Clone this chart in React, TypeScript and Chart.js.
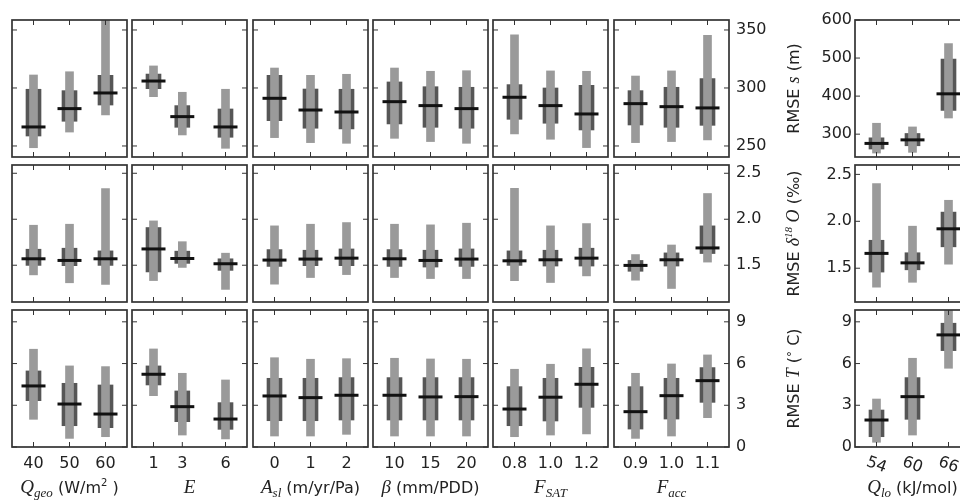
import React, { useEffect, useRef } from 'react';
import { Chart, registerables } from 'chart.js';

Chart.register(...registerables);

// ---------- parameter values (x categories) and tick labels ----------
const qgeoValues = [40, 50, 60];
const qgeoLabels = ['40', '50', '60'];
const eValues = [1, 3, 6];
const eLabels = ['1', '3', '6'];
const aslValues = [0, 1, 2];
const aslLabels = ['0', '1', '2'];
const betaValues = [10, 15, 20];
const betaLabels = ['10', '15', '20'];
const fsatValues = [0.8, 1.0, 1.2];
const fsatLabels = ['0.8', '1.0', '1.2'];
const faccValues = [0.9, 1.0, 1.1];
const faccLabels = ['0.9', '1.0', '1.1'];
const qloValues = [54, 60, 66];
const qloLabels = ['54', '60', '66'];

// ---------- y ticks ----------
const sTicks = [250, 300, 350];
const sTicksQlo = [300, 400, 500, 600];
const d18oTicks = [1.5, 2.0, 2.5];
const tempTicks = [0, 3, 6, 9];

// ---------- y ranges ----------
const sRange = [240.5, 358.6];
const sRangeQlo = [240, 600];
const d18oRange = [1.1, 2.59];
const d18oRangeQlo = [1.14, 2.6];
const tempRange = [0, 9.85];

// ---------- statistics: [min, q1, median, q3, max] per category ----------
// RMSE s (m)
const sQgeo = [[248.5, 258.6, 266.4, 298.9, 311.2], [262, 271.3, 282.2, 297.7, 314], [276.7, 285.3, 295.7, 310.9, 362]];
const sE = [[292.5, 299.4, 306, 312, 319], [259.5, 266.1, 275.3, 284.8, 296.3], [248, 257.5, 266.4, 281.9, 298.9]];
const sAsl = [[257.2, 271.8, 291.1, 310.9, 317.2], [252.9, 265.3, 281, 299.1, 310.9], [252.3, 264.7, 279.3, 298.9, 311.8]];
const sBeta = [[256.6, 269, 288.2, 305.2, 317.2], [253.8, 266.1, 284.8, 301.1, 314.4], [252.3, 265.3, 282.2, 300.6, 314.9]];
const sFsat = [[260.3, 273, 292, 302.9, 345.9], [255.8, 269.6, 284.8, 300, 314.7], [248.6, 263.8, 277.6, 302.3, 314.4]];
const sFacc = [[252.9, 268.1, 286.5, 297.7, 310.3], [253.8, 266.1, 283.9, 300.6, 314.7], [255.2, 267.8, 282.8, 308.1, 345.4]];
const sQlo = [[250.4, 260.9, 275.7, 290.4, 328.7], [252.2, 269.5, 285, 301.8, 319], [342.5, 362.6, 406, 497.5, 538]];
// RMSE d18O (permil)
const dQgeo = [[1.395, 1.498, 1.57, 1.674, 1.935], [1.309, 1.495, 1.552, 1.685, 1.946], [1.29, 1.498, 1.57, 1.656, 2.333]];
const dE = [[1.333, 1.427, 1.677, 1.91, 1.982], [1.476, 1.52, 1.573, 1.653, 1.756], [1.237, 1.444, 1.516, 1.57, 1.631]];
const dAsl = [[1.294, 1.487, 1.556, 1.67, 1.928], [1.366, 1.495, 1.567, 1.663, 1.946], [1.398, 1.495, 1.577, 1.677, 1.964]];
const dBeta = [[1.366, 1.487, 1.57, 1.67, 1.946], [1.355, 1.48, 1.552, 1.663, 1.939], [1.355, 1.487, 1.567, 1.677, 1.957]];
const dFsat = [[1.333, 1.498, 1.548, 1.656, 2.337], [1.312, 1.491, 1.559, 1.663, 1.928], [1.384, 1.491, 1.577, 1.685, 1.953]];
const dFacc = [[1.337, 1.434, 1.498, 1.552, 1.616], [1.247, 1.491, 1.559, 1.634, 1.72], [1.534, 1.627, 1.688, 1.928, 2.28]];
const dQlo = [[1.298, 1.459, 1.658, 1.798, 2.402], [1.35, 1.483, 1.557, 1.665, 1.948], [1.543, 1.728, 1.92, 2.098, 2.224]];
// RMSE T (deg C)
const tQgeo = [[1.99, 3.33, 4.39, 5.47, 7.03], [0.62, 1.53, 3.09, 4.58, 5.83], [0.74, 1.39, 2.37, 4.46, 5.78]];
const tE = [[3.69, 4.46, 5.23, 5.83, 7.05], [0.86, 1.82, 2.9, 4.03, 5.3], [0.58, 1.27, 2.01, 3.19, 4.82]];
const tAsl = [[0.79, 1.89, 3.67, 4.94, 6.42], [0.79, 1.89, 3.55, 4.94, 6.31], [0.91, 1.94, 3.72, 4.99, 6.35]];
const tBeta = [[0.79, 1.94, 3.72, 4.99, 6.38], [0.79, 1.94, 3.6, 4.99, 6.33], [0.79, 1.94, 3.62, 4.99, 6.31]];
const tFsat = [[0.74, 1.53, 2.73, 4.34, 5.59], [0.86, 1.87, 3.58, 4.94, 5.95], [0.94, 2.85, 4.51, 5.73, 7.05]];
const tFacc = [[0.62, 1.29, 2.54, 4.34, 5.3], [0.79, 2.01, 3.69, 4.94, 5.97], [2.11, 3.21, 4.77, 5.71, 6.62]];
const tQlo = [[0.34, 0.74, 1.94, 2.66, 3.45], [0.86, 1.99, 3.62, 4.99, 6.38], [5.66, 6.93, 8.06, 8.9, 9.9]];

// ---------- text styling helpers ----------
type Seg = { t: string; f: string; dy?: number };
const SANS = "'DejaVu Sans', sans-serif";
const SERIF = "'Liberation Serif', 'DejaVu Serif', serif";
const sans = (n: number) => `${n}px ${SANS}`;
const mi = (n: number) => `italic ${n}px ${SERIF}`;
const TEXT = '#222';

const xTitles: Seg[][] = [
  [{ t: 'Q', f: mi(19) }, { t: 'geo', f: mi(13), dy: 4 }, { t: ' (W/m', f: sans(16) }, { t: '2', f: sans(10), dy: -7 }, { t: ' )', f: sans(16) }],
  [{ t: 'E', f: mi(19) }],
  [{ t: 'A', f: mi(19) }, { t: 'sl', f: mi(13), dy: 4 }, { t: ' (m/yr/Pa)', f: sans(16) }],
  [{ t: 'β', f: mi(19) }, { t: ' (mm/PDD)', f: sans(16) }],
  [{ t: 'F', f: mi(19) }, { t: 'SAT', f: mi(13), dy: 4 }],
  [{ t: 'F', f: mi(19) }, { t: 'acc', f: mi(13), dy: 4 }],
  [{ t: 'Q', f: mi(19) }, { t: 'lo', f: mi(13), dy: 4 }, { t: ' (kJ/mol)', f: sans(16) }],
];
const yTitles: Seg[][] = [
  [{ t: 'RMSE ', f: sans(16) }, { t: 's', f: mi(18) }, { t: ' (m)', f: sans(16) }],
  [{ t: 'RMSE ', f: sans(16) }, { t: 'δ', f: mi(18) }, { t: '18', f: mi(11), dy: -7 }, { t: ' O', f: mi(18) }, { t: ' (‰)', f: sans(16) }],
  [{ t: 'RMSE ', f: sans(16) }, { t: 'T', f: mi(18) }, { t: ' (', f: sans(16) }, { t: '°', f: sans(12), dy: -3 }, { t: ' C)', f: sans(16) }],
];

function drawRich(ctx: CanvasRenderingContext2D, segs: Seg[], cx: number, cy: number, rotate: boolean) {
  let w = 0;
  segs.forEach((s) => { ctx.font = s.f; w += ctx.measureText(s.t).width; });
  ctx.save();
  ctx.translate(cx, cy);
  if (rotate) ctx.rotate(-Math.PI / 2);
  ctx.textAlign = 'left';
  ctx.textBaseline = 'alphabetic';
  let x = -w / 2;
  segs.forEach((s) => {
    ctx.font = s.f;
    ctx.fillText(s.t, x, s.dy || 0);
    x += ctx.measureText(s.t).width;
  });
  ctx.restore();
}

// ---------- layout ----------
const PW = 115;
const PH = 137;
const COL_X = [12, 132, 253, 373, 493, 614];
const RIGHT_X = 855;
const ROW_Y = [20, 165, 310];
const M = 26;

type PanelSpec = {
  xs: number[]; xl: string[]; stats: number[][];
  yr: number[]; yt: number[]; dec: number;
  px: number; py: number;
  mL: number; mR: number; mT: number; mB: number;
  yPos: 'left' | 'right' | null;
  showX: boolean; rotX: boolean;
  xTitle: Seg[] | null; yTitle: Seg[] | null;
};

const leftCols = [
  { xs: qgeoValues, xl: qgeoLabels, rows: [sQgeo, dQgeo, tQgeo] },
  { xs: eValues, xl: eLabels, rows: [sE, dE, tE] },
  { xs: aslValues, xl: aslLabels, rows: [sAsl, dAsl, tAsl] },
  { xs: betaValues, xl: betaLabels, rows: [sBeta, dBeta, tBeta] },
  { xs: fsatValues, xl: fsatLabels, rows: [sFsat, dFsat, tFsat] },
  { xs: faccValues, xl: faccLabels, rows: [sFacc, dFacc, tFacc] },
];
const rowRanges = [sRange, d18oRange, tempRange];
const rowRangesQlo = [sRangeQlo, d18oRangeQlo, tempRange];
const rowTicks = [sTicks, d18oTicks, tempTicks];
const rowTicksQlo = [sTicksQlo, d18oTicks, tempTicks];
const rowDec = [0, 1, 0];

const panels: PanelSpec[] = [];
for (let r = 0; r < 3; r++) {
  leftCols.forEach((c, i) => {
    const last = i === 5;
    const bottom = r === 2;
    panels.push({
      xs: c.xs, xl: c.xl, stats: c.rows[r],
      yr: rowRanges[r], yt: rowTicks[r], dec: rowDec[r],
      px: COL_X[i], py: ROW_Y[r],
      mL: M, mR: last ? 64 : M, mT: M, mB: bottom ? 504 - (ROW_Y[r] + PH) : M,
      yPos: last ? 'right' : null,
      showX: bottom, rotX: false,
      xTitle: bottom ? xTitles[i] : null, yTitle: null,
    });
  });
  const bottom = r === 2;
  panels.push({
    xs: qloValues, xl: qloLabels, stats: [sQlo, dQlo, tQlo][r],
    yr: rowRangesQlo[r], yt: rowTicksQlo[r], dec: rowDec[r],
    px: RIGHT_X, py: ROW_Y[r],
    mL: 100, mR: M, mT: M, mB: bottom ? 504 - (ROW_Y[r] + PH) : M,
    yPos: 'left',
    showX: false, rotX: bottom,
    xTitle: bottom ? xTitles[6] : null, yTitle: yTitles[r],
  });
}

function framePlugin(p: PanelSpec) {
  return {
    id: 'frame',
    afterDraw(chart: any) {
      const { ctx, chartArea: a } = chart;
      const xs = chart.scales.x;
      const ys = chart.scales.y;
      ctx.save();
      ctx.strokeStyle = '#333';
      ctx.lineWidth = 1;
      ctx.beginPath();
      p.xs.forEach((v) => {
        const x = xs.getPixelForValue(v);
        ctx.moveTo(x, a.top); ctx.lineTo(x, a.top + 5);
        ctx.moveTo(x, a.bottom); ctx.lineTo(x, a.bottom - 5);
      });
      p.yt.forEach((v) => {
        const y = ys.getPixelForValue(v);
        ctx.moveTo(a.left, y); ctx.lineTo(a.left + 5, y);
        ctx.moveTo(a.right, y); ctx.lineTo(a.right - 5, y);
      });
      ctx.stroke();
      ctx.lineWidth = 1.7;
      ctx.strokeRect(a.left, a.top, a.right - a.left, a.bottom - a.top);
      ctx.fillStyle = TEXT;
      if (p.rotX) {
        ctx.font = sans(16);
        ctx.textAlign = 'center';
        ctx.textBaseline = 'middle';
        p.xs.forEach((v, i) => {
          const x = xs.getPixelForValue(v);
          ctx.save();
          ctx.translate(x, a.bottom + 18);
          ctx.rotate((20 * Math.PI) / 180);
          ctx.fillText(p.xl[i], 0, 0);
          ctx.restore();
        });
      }
      if (p.xTitle) drawRich(ctx, p.xTitle, (a.left + a.right) / 2, a.bottom + 46, false);
      if (p.yTitle) drawRich(ctx, p.yTitle, a.left - 56, (a.top + a.bottom) / 2, true);
      ctx.restore();
    },
  };
}

function buildConfig(p: PanelSpec): any {
  const xs = p.xs;
  const span = xs[xs.length - 1] - xs[0];
  const pad = (span * 21.5) / 72;
  const light = p.stats.map((s, i) => ({ x: xs[i], y: [s[0], s[4]] }));
  const dark = p.stats.map((s, i) => ({ x: xs[i], y: [s[1], s[3]] }));
  const med = p.stats.map((s, i) => ({ x: xs[i], y: s[2] }));
  const tickFont = { family: SANS, size: 16 };
  return {
    type: 'bar',
    data: {
      datasets: [
        { type: 'scatter', data: med, pointStyle: 'line', pointRadius: 12, pointHoverRadius: 12, borderColor: '#111', backgroundColor: '#111', borderWidth: 3, order: 0 },
        { type: 'bar', data: light, backgroundColor: '#9a9a9a', barThickness: 8, grouped: false, borderWidth: 0, order: 1 },
        { type: 'bar', data: dark, backgroundColor: '#565656', barThickness: 15, grouped: false, borderWidth: 0, order: 2 },
      ],
    },
    options: {
      animation: false,
      responsive: false,
      events: [],
      layout: {
        padding: {
          left: p.yPos === 'left' ? 0 : p.mL,
          right: p.yPos === 'right' ? 0 : p.mR,
          top: p.mT,
          bottom: p.showX ? 0 : p.mB,
        },
      },
      plugins: { legend: { display: false }, tooltip: { enabled: false }, title: { display: false } },
      scales: {
        x: {
          type: 'linear', position: 'bottom', offset: false,
          min: xs[0] - pad, max: xs[xs.length - 1] + pad,
          display: p.showX,
          grid: { display: false, drawTicks: false },
          border: { display: false },
          ticks: {
            font: tickFont, color: TEXT, padding: 7, autoSkip: false, maxRotation: 0, minRotation: 0,
            callback: (_v: any, i: number) => p.xl[i],
          },
          afterBuildTicks: (s: any) => { s.ticks = xs.map((v) => ({ value: v })); },
          afterFit: (s: any) => { if (p.showX) s.height = p.mB; },
        },
        y: {
          type: 'linear', position: p.yPos || 'right', beginAtZero: false,
          min: p.yr[0], max: p.yr[1],
          display: p.yPos !== null,
          grid: { display: false, drawTicks: false },
          border: { display: false },
          ticks: {
            font: tickFont, color: TEXT, padding: p.yPos === 'left' ? 3 : 7,
            callback: (v: any) => Number(v).toFixed(p.dec),
          },
          afterBuildTicks: (s: any) => { s.ticks = p.yt.map((v) => ({ value: v })); },
          afterFit: (s: any) => {
            if (p.yPos === 'left') s.width = p.mL;
            else if (p.yPos === 'right') s.width = p.mR;
          },
        },
      },
    },
    plugins: [framePlugin(p)],
  };
}

function Panel({ spec }: { spec: PanelSpec }) {
  const ref = useRef<HTMLCanvasElement>(null);
  const w = spec.mL + PW + spec.mR;
  const h = spec.mT + PH + spec.mB;
  useEffect(() => {
    if (!ref.current) return;
    const chart = new Chart(ref.current, buildConfig(spec));
    return () => chart.destroy();
  }, [spec]);
  return (
    <canvas
      ref={ref}
      width={w}
      height={h}
      style={{ position: 'absolute', left: spec.px - spec.mL, top: spec.py - spec.mT, width: w, height: h }}
    />
  );
}

export default function App() {
  return (
    <div style={{ position: 'fixed', left: 0, top: 0, width: 960, height: 504, overflow: 'hidden', background: '#fff' }}>
      {panels.map((p, i) => (
        <Panel key={i} spec={p} />
      ))}
    </div>
  );
}
